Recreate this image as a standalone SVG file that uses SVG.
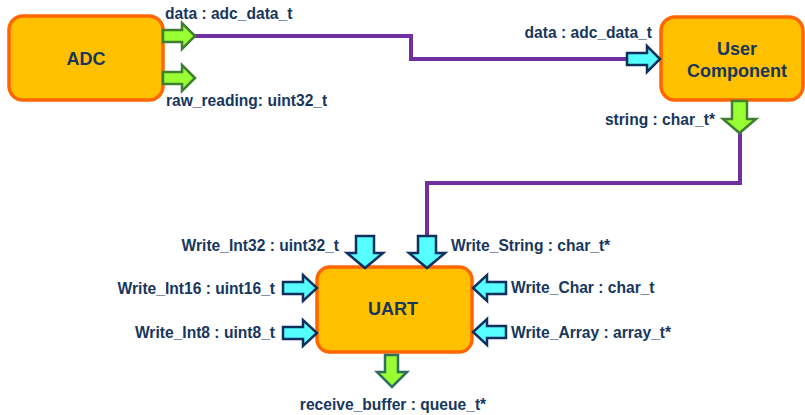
<svg xmlns="http://www.w3.org/2000/svg" width="805" height="415" viewBox="0 0 805 415">
<defs>
<style>
.box{fill:#FFC000;stroke:#FF6600;stroke-width:3.5}
.title{font-family:"Liberation Sans",Arial,sans-serif;font-weight:bold;font-size:18px;fill:#17375E;text-anchor:middle}
.lbl{font-family:"Liberation Sans",Arial,sans-serif;font-weight:bold;font-size:15.6px;fill:#17375E}
.end{text-anchor:end}
.mid{text-anchor:middle}
.green{fill:#99FF33;stroke:#3F7F2F;stroke-width:2.5;stroke-linejoin:miter}
.green2{fill:#99FF33;stroke:#2F6F5F;stroke-width:2.5}
.cyan{fill:#55FFFF;stroke:#0F2F5F;stroke-width:2.5}
.wire{fill:none;stroke:#7030A0;stroke-width:4}
</style>
</defs>
<g id="connectors">
<path class="wire" d="M195,36 H411 V59 H627"/>
<path class="wire" d="M740,133 V183 H427 V236"/>
</g>
<g id="ADC">
<rect class="box" x="9" y="16" width="154" height="84" rx="14"/>
<text class="title" x="86" y="65">ADC</text>
<path class="green" d="M163,30 H182 V23 L195,36 L182,49 V42 H163 Z"/>
<text class="lbl" x="165" y="19">data : adc_data_t</text>
<path class="green" d="M163,72 H182 V65 L195,78 L182,91 V84 H163 Z"/>
<text class="lbl" x="166" y="106">raw_reading: uint32_t</text>
</g>
<g id="UserComponent">
<rect class="box" x="661" y="17" width="142" height="83" rx="14"/>
<text class="title" x="737" y="55">User</text>
<text class="title" x="737" y="77">Component</text>
<path class="cyan" d="M627,53 H647 V46 L660,59 L647,72 V65 H627 Z"/>
<text class="lbl end" x="652" y="38">data : adc_data_t</text>
<path class="green" d="M732,101 H747 V119 H756 L739.5,133 L723,119 H732 Z"/>
<text class="lbl end" x="715" y="125">string : char_t*</text>
</g>
<g id="UART">
<rect class="box" x="317" y="267" width="155" height="85" rx="13"/>
<text class="title" x="393" y="315">UART</text>
<path class="cyan" d="M356,236 H374 V253 H383 L365,268 L347,253 H356 Z"/>
<text class="lbl end" x="339" y="251">Write_Int32 : uint32_t</text>
<path class="cyan" d="M418,236 H436 V253 H445 L427,268 L409,253 H418 Z"/>
<text class="lbl" x="451" y="251">Write_String : char_t*</text>
<path class="cyan" d="M283,282 H303 V275 L317,288 L303,301 V294 H283 Z"/>
<text class="lbl end" x="275" y="294">Write_Int16 : uint16_t</text>
<path class="cyan" d="M283,327 H303 V320 L317,333 L303,346 V339 H283 Z"/>
<text class="lbl end" x="275" y="338">Write_Int8 : uint8_t</text>
<path class="cyan" d="M506,282 H487 V275 L473,288 L487,301 V294 H506 Z"/>
<text class="lbl" x="511" y="293">Write_Char : char_t</text>
<path class="cyan" d="M506,326 H487 V319 L473,332 L487,345 V338 H506 Z"/>
<text class="lbl" x="511" y="338">Write_Array : array_t*</text>
<path class="green2" d="M385,355 H398 V372 H407 L392,387 L377,372 H385 Z"/>
<text class="lbl mid" x="393" y="410">receive_buffer : queue_t*</text>
</g>
</svg>
